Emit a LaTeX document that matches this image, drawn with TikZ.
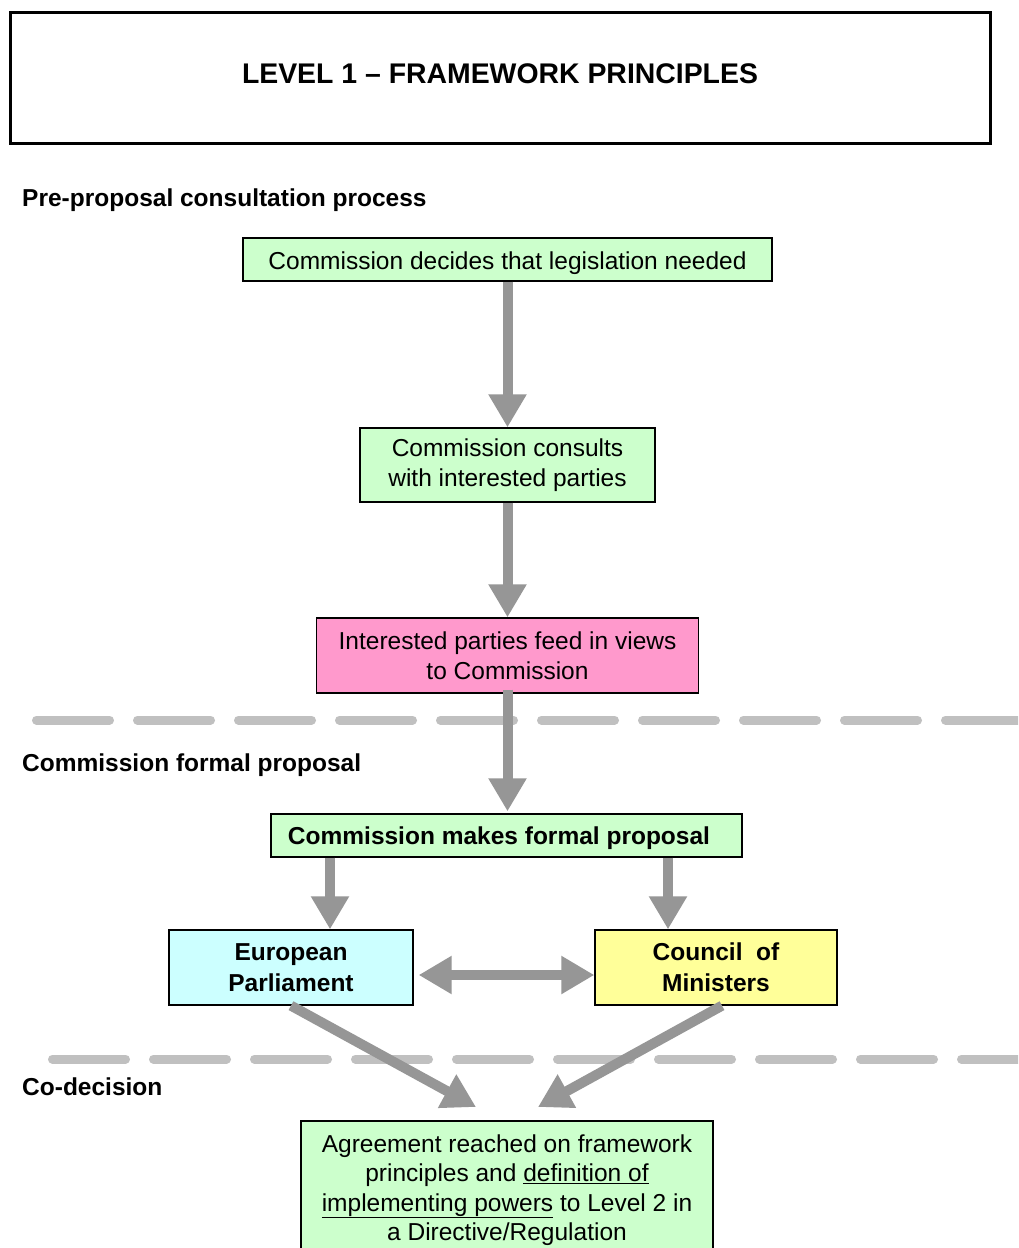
\documentclass[tikz,border=0pt]{standalone}
\usepackage{fontspec}
\setmainfont{Liberation Sans}
\usetikzlibrary{arrows.meta,calc}
\definecolor{boxgreen}{HTML}{CCFFCC}
\definecolor{boxpink}{HTML}{FF99CC}
\definecolor{boxcyan}{HTML}{CCFFFF}
\definecolor{boxyellow}{HTML}{FFFF99}
\definecolor{arrgray}{HTML}{969696}
\definecolor{dashgray}{HTML}{C0C0C0}
\tikzset{
  flowbox/.style={draw=black, line width=1.3pt, inner sep=0pt, align=center,
    font=\fontsize{24.5}{29.5}\selectfont},
  boldbox/.style={flowbox, font=\fontsize{24.5}{31}\selectfont\bfseries},
  sectlabel/.style={anchor=west, inner sep=0pt, font=\fontsize{24.5}{29.5}\selectfont\bfseries},
  garrow/.style={draw=arrgray, line width=10pt, -{Triangle[width=36pt,length=33pt]}},
  gdarrow/.style={draw=arrgray, line width=10pt, {Triangle[width=36pt,length=33pt]}-{Triangle[width=36pt,length=33pt]}},
  sepline/.style={draw=dashgray, line width=9pt, line cap=round, dash pattern=on 73pt off 28pt}
}
\begin{document}
\begin{tikzpicture}[x=1pt,y=-1pt]
\clip (0,0) rectangle (1018,1248);
\fill[white] (0,0) rectangle (1018,1248);

% title
\draw[line width=3pt] (10,12) rectangle (990,143);
\node[font=\fontsize{28.4}{32}\selectfont\bfseries, inner sep=0pt] (title) at (500,74) {LEVEL 1 – FRAMEWORK PRINCIPLES};

% section labels
\node[sectlabel] (s1) at (22,200) {Pre-proposal consultation process};
\node[sectlabel] (s2) at (22,765.5) {Commission formal proposal};
\node[sectlabel] (s3) at (22,1087) {Co-decision};

% separators
\coordinate (d1a) at (36.5,720);
\coordinate (d1b) at (1030,720);
\coordinate (d2a) at (52.5,1059);
\coordinate (d2b) at (1030,1059);
\draw[sepline] (d1a) -- (d1b);
\draw[sepline] (d2a) -- (d2b);

% boxes
\node[flowbox, fill=boxgreen, minimum width=529pt, minimum height=43pt] (b1) at (507.5,259.5) {\raisebox{-3pt}[18pt][5pt]{Commission decides that legislation needed}};
\node[flowbox, fill=boxgreen, minimum width=295pt, minimum height=74pt] (b2) at (507.5,465) {Commission consults\\with interested parties};
\node[flowbox, fill=boxpink, minimum width=382pt, minimum height=75pt] (b3) at (507.5,655.5) {Interested parties feed in views\\to Commission};
\node[boldbox, fill=boxgreen, minimum width=471pt, minimum height=43pt] (b4) at (506.5,835.5) {\raisebox{-2pt}[18pt][5pt]{Commission makes formal proposal}\hspace*{15pt}};
\node[boldbox, fill=boxcyan, minimum width=244pt, minimum height=75pt] (ep) at (291,967.5) {European\\Parliament};
\node[boldbox, fill=boxyellow, minimum width=242pt, minimum height=75pt] (cm) at (716,967.5) {Council~ of\\Ministers};
\node[flowbox, fill=boxgreen, minimum width=412pt, minimum height=138pt] (fin) at (507,1190) {Agreement reached on framework\\principles and \underline{definition of}\\\underline{implementing powers} to Level 2 in\\a Directive/Regulation};

% connectors
\coordinate (xl) at (330,0);
\coordinate (xr) at (668,0);
\draw[garrow] (b1.south) -- (b2.north);
\draw[garrow] (b2.south) -- (b3.north);
\draw[garrow] ($(b3.south)+(0,-4)$) -- ($(b4.north -| b3.south)+(0,-2)$);
\draw[garrow] (b4.south -| xl) -- (ep.north -| xl);
\draw[garrow] (b4.south -| xr) -- (cm.north -| xr);
\draw[gdarrow] ($(ep.east)+(5,7.5)$) -- ($(cm.west)+(0,7.5)$);
\coordinate (tipL) at (476,1107);
\coordinate (tipR) at (538,1107);
\draw[garrow] (ep.south) -- (tipL);
\draw[garrow] ($(cm.south)+(6,0)$) -- (tipR);
\end{tikzpicture}
\end{document}
